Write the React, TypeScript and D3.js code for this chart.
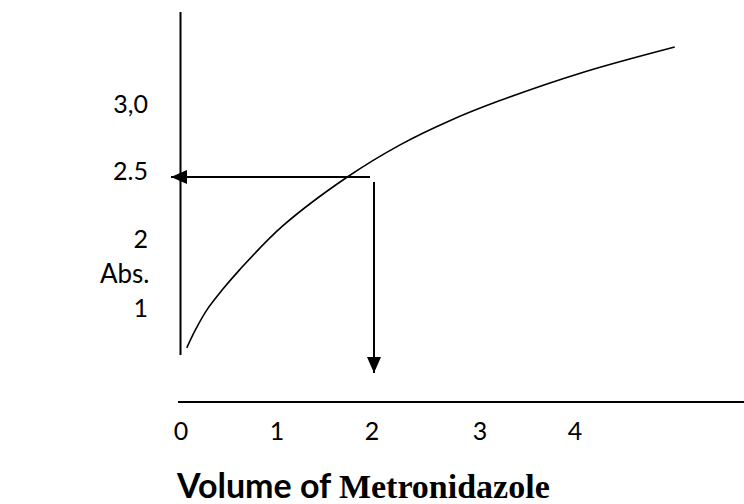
import React from "react";
import * as d3 from "d3";

// Data
const xTicks = [0, 1, 2, 3, 4];
const xTickLabels = ["0", "1", "2", "3", "4"];
const yTicks = [3, 2.5, 2, 1];
const yTickLabels = ["3,0", "2.5", "2", "1"];
const curveX = [0.06, 0.15, 0.27, 0.43, 0.61, 1.06, 1.74, 2.26, 2.72, 3.21, 4.08, 5.05];
const curveY = [0.51, 0.77, 1.06, 1.35, 1.64, 2.14, 2.5, 2.74, 2.92, 3.07, 3.28, 3.47];
const targetAbs = 2.5;
const targetVolume = 2;
const yLabel = "Abs.";
const titleA = "Volume of ";
const titleB = "Metronidazole";

const W = 744;
const H = 504;

export default function App() {
  const x = d3.scaleLinear().domain([0, 1, 2, 3, 4]).range([181, 277, 372, 480, 575]);
  const y = d3.scaleLinear().domain([1, 2, 2.5, 3]).range([314, 245, 177, 110]);
  const pts: [number, number][] = curveX.map((v, i) => [v, curveY[i]]);
  const line = d3
    .line<[number, number]>()
    .x((d) => x(d[0]))
    .y((d) => y(d[1]))
    .curve(d3.curveCatmullRom.alpha(0.5));

  const axisX = 180.5;
  const axisY = 402;
  const hy = y(targetAbs);
  const vx = x(targetVolume) + 2;

  return (
    <svg
      width={W}
      height={H}
      style={{ position: "absolute", left: 0, top: 0, background: "#fff" }}
    >
      <defs>
        <marker id="ah" viewBox="0 0 16 14" refX="16" refY="7" markerWidth="16" markerHeight="14" markerUnits="userSpaceOnUse" orient="auto">
          <path d="M0,0 L16,7 L0,14 Z" fill="#000" />
        </marker>
      </defs>
      {/* y axis */}
      <line x1={axisX} x2={axisX} y1={12} y2={355} stroke="#000" strokeWidth={2} />
      {/* x axis */}
      <line x1={178} x2={744} y1={axisY} y2={axisY} stroke="#000" strokeWidth={2} />
      {/* curve */}
      <path d={line(pts) || ""} fill="none" stroke="#000" strokeWidth={1.6} />
      {/* horizontal arrow */}
      <line x1={x(targetVolume) - 2} x2={171} y1={hy} y2={hy} stroke="#000" strokeWidth={2} markerEnd="url(#ah)" />
      {/* vertical arrow */}
      <line x1={vx} x2={vx} y1={hy + 5} y2={373} stroke="#000" strokeWidth={2} markerEnd="url(#ah)" />
      {/* x tick labels */}
      {xTicks.map((t, i) => (
        <text key={t} x={x(t)} y={440} textAnchor="middle" fontFamily="Lato, 'Open Sans', sans-serif" fontSize={25} fill="#000">
          {xTickLabels[i]}
        </text>
      ))}
      {/* y tick labels */}
      {yTicks.map((t, i) => (
        <text key={t} x={148} y={y(t) + 3} textAnchor="end" fontFamily="Lato, 'Open Sans', sans-serif" fontSize={25} fill="#000">
          {yTickLabels[i]}
        </text>
      ))}
      <text x={100} y={283} fontFamily="Lato, 'Open Sans', sans-serif" fontSize={26} fill="#000">
        {yLabel}
      </text>
      <text x={177} y={498} fontSize={34} fontWeight="bold" fill="#000">
        <tspan fontFamily="Lato, sans-serif">{titleA}</tspan>
        <tspan fontFamily="'Liberation Serif', 'Times New Roman', serif">{titleB}</tspan>
      </text>
    </svg>
  );
}
